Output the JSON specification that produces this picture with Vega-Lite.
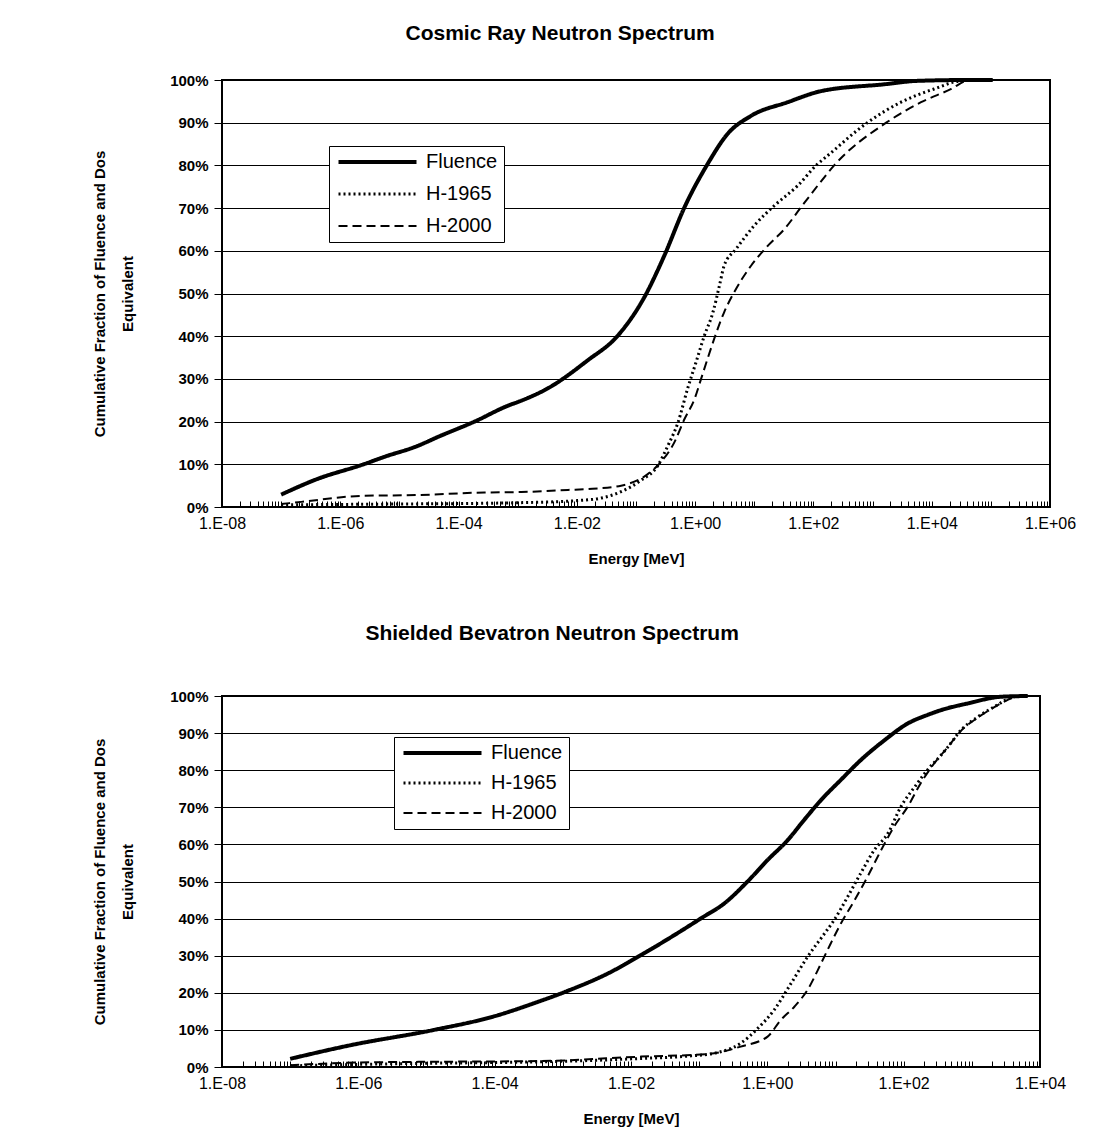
{
  "$schema": "https://vega.github.io/schema/vega-lite/v6.json",
  "background": "white",
  "padding": {"left": 91, "top": 22, "right": 10, "bottom": 5},
  "spacing": 55,
  "resolve": {
    "scale": {"strokeDash": "independent", "strokeWidth": "independent"},
    "legend": {"strokeDash": "independent", "strokeWidth": "independent"}
  },
  "datasets": {
    "cosmic": [
      {"series": "Fluence", "E": 1e-7, "pct": 2.9},
      {"series": "Fluence", "E": 4.17e-7, "pct": 6.6},
      {"series": "Fluence", "E": 2.24e-6, "pct": 9.8},
      {"series": "Fluence", "E": 6.31e-6, "pct": 12.0},
      {"series": "Fluence", "E": 1.78e-5, "pct": 14.0},
      {"series": "Fluence", "E": 5.01e-5, "pct": 16.7},
      {"series": "Fluence", "E": 1.86e-4, "pct": 20.0},
      {"series": "Fluence", "E": 6.76e-4, "pct": 23.7},
      {"series": "Fluence", "E": 1.15e-3, "pct": 24.9},
      {"series": "Fluence", "E": 3.24e-3, "pct": 27.8},
      {"series": "Fluence", "E": 1.51e-2, "pct": 34.3},
      {"series": "Fluence", "E": 4.9e-2, "pct": 40.1},
      {"series": "Fluence", "E": 0.138, "pct": 49.1},
      {"series": "Fluence", "E": 0.302, "pct": 58.9},
      {"series": "Fluence", "E": 0.661, "pct": 70.2},
      {"series": "Fluence", "E": 1.62, "pct": 80.3},
      {"series": "Fluence", "E": 3.55, "pct": 87.4},
      {"series": "Fluence", "E": 8.81, "pct": 91.6},
      {"series": "Fluence", "E": 36.7, "pct": 94.8},
      {"series": "Fluence", "E": 135, "pct": 97.4},
      {"series": "Fluence", "E": 1585, "pct": 99.0},
      {"series": "Fluence", "E": 5754, "pct": 99.8},
      {"series": "Fluence", "E": 40738, "pct": 100},
      {"series": "Fluence", "E": 107150, "pct": 100},
      {"series": "H-1965", "E": 1e-7, "pct": 0.5},
      {"series": "H-1965", "E": 1e-6, "pct": 0.6},
      {"series": "H-1965", "E": 1e-5, "pct": 0.7},
      {"series": "H-1965", "E": 1e-4, "pct": 0.8},
      {"series": "H-1965", "E": 1e-3, "pct": 1.0},
      {"series": "H-1965", "E": 1.02e-2, "pct": 1.5},
      {"series": "H-1965", "E": 2.6e-2, "pct": 2.1},
      {"series": "H-1965", "E": 5.6e-2, "pct": 3.6},
      {"series": "H-1965", "E": 0.12, "pct": 6.2},
      {"series": "H-1965", "E": 0.234, "pct": 9.7},
      {"series": "H-1965", "E": 0.347, "pct": 14.4},
      {"series": "H-1965", "E": 0.513, "pct": 19.8},
      {"series": "H-1965", "E": 0.741, "pct": 27.6},
      {"series": "H-1965", "E": 1.035, "pct": 33.9},
      {"series": "H-1965", "E": 1.43, "pct": 40.1},
      {"series": "H-1965", "E": 2.0, "pct": 45.6},
      {"series": "H-1965", "E": 2.57, "pct": 51.8},
      {"series": "H-1965", "E": 3.09, "pct": 56.5},
      {"series": "H-1965", "E": 4.9, "pct": 60.4},
      {"series": "H-1965", "E": 10, "pct": 65.9},
      {"series": "H-1965", "E": 21.9, "pct": 70.6},
      {"series": "H-1965", "E": 53.7, "pct": 75.2},
      {"series": "H-1965", "E": 117, "pct": 80.3},
      {"series": "H-1965", "E": 174, "pct": 82.3},
      {"series": "H-1965", "E": 832, "pct": 90.1},
      {"series": "H-1965", "E": 3020, "pct": 94.8},
      {"series": "H-1965", "E": 10960, "pct": 97.9},
      {"series": "H-1965", "E": 31600, "pct": 99.8},
      {"series": "H-1965", "E": 107150, "pct": 100},
      {"series": "H-2000", "E": 1e-7, "pct": 0.7},
      {"series": "H-2000", "E": 2.2e-7, "pct": 1.2},
      {"series": "H-2000", "E": 2.24e-6, "pct": 2.6},
      {"series": "H-2000", "E": 2.04e-5, "pct": 2.8},
      {"series": "H-2000", "E": 2.75e-4, "pct": 3.4},
      {"series": "H-2000", "E": 1.15e-3, "pct": 3.5},
      {"series": "H-2000", "E": 7.1e-3, "pct": 4.0},
      {"series": "H-2000", "E": 1.51e-2, "pct": 4.2},
      {"series": "H-2000", "E": 5.6e-2, "pct": 5.0},
      {"series": "H-2000", "E": 0.158, "pct": 7.7},
      {"series": "H-2000", "E": 0.263, "pct": 10.5},
      {"series": "H-2000", "E": 0.447, "pct": 15.2},
      {"series": "H-2000", "E": 0.661, "pct": 20.6},
      {"series": "H-2000", "E": 0.977, "pct": 25.3},
      {"series": "H-2000", "E": 1.26, "pct": 30.0},
      {"series": "H-2000", "E": 1.62, "pct": 34.7},
      {"series": "H-2000", "E": 2.09, "pct": 39.3},
      {"series": "H-2000", "E": 3.09, "pct": 45.6},
      {"series": "H-2000", "E": 4.57, "pct": 50.3},
      {"series": "H-2000", "E": 8.81, "pct": 56.5},
      {"series": "H-2000", "E": 17, "pct": 61.2},
      {"series": "H-2000", "E": 32.4, "pct": 65.1},
      {"series": "H-2000", "E": 61.7, "pct": 70.2},
      {"series": "H-2000", "E": 117, "pct": 75.2},
      {"series": "H-2000", "E": 224, "pct": 80.0},
      {"series": "H-2000", "E": 1700, "pct": 90.0},
      {"series": "H-2000", "E": 6600, "pct": 94.8},
      {"series": "H-2000", "E": 21400, "pct": 97.9},
      {"series": "H-2000", "E": 39800, "pct": 99.8},
      {"series": "H-2000", "E": 107150, "pct": 100}
    ],
    "bevatron": [
      {"series": "Fluence", "E": 1e-7, "pct": 2.2},
      {"series": "Fluence", "E": 7.8e-7, "pct": 5.9},
      {"series": "Fluence", "E": 1.29e-5, "pct": 10.0},
      {"series": "Fluence", "E": 1e-4, "pct": 13.7},
      {"series": "Fluence", "E": 3.8e-4, "pct": 17.2},
      {"series": "Fluence", "E": 1.17e-3, "pct": 20.5},
      {"series": "Fluence", "E": 4.57e-3, "pct": 25.2},
      {"series": "Fluence", "E": 1.41e-2, "pct": 30.2},
      {"series": "Fluence", "E": 4.37e-2, "pct": 35.6},
      {"series": "Fluence", "E": 0.107, "pct": 40.1},
      {"series": "Fluence", "E": 0.234, "pct": 44.1},
      {"series": "Fluence", "E": 0.513, "pct": 50.0},
      {"series": "Fluence", "E": 1.01, "pct": 55.8},
      {"series": "Fluence", "E": 2.0, "pct": 61.2},
      {"series": "Fluence", "E": 3.47, "pct": 66.6},
      {"series": "Fluence", "E": 6.17, "pct": 72.0},
      {"series": "Fluence", "E": 12, "pct": 77.4},
      {"series": "Fluence", "E": 23.4, "pct": 82.7},
      {"series": "Fluence", "E": 52.5, "pct": 88.1},
      {"series": "Fluence", "E": 115, "pct": 92.6},
      {"series": "Fluence", "E": 224, "pct": 94.9},
      {"series": "Fluence", "E": 355, "pct": 96.2},
      {"series": "Fluence", "E": 871, "pct": 98.0},
      {"series": "Fluence", "E": 2690, "pct": 99.8},
      {"series": "Fluence", "E": 6610, "pct": 100},
      {"series": "H-1965", "E": 1e-7, "pct": 0.3},
      {"series": "H-1965", "E": 1e-6, "pct": 0.7},
      {"series": "H-1965", "E": 1e-5, "pct": 1.0},
      {"series": "H-1965", "E": 1e-4, "pct": 1.2},
      {"series": "H-1965", "E": 4.8e-4, "pct": 1.4},
      {"series": "H-1965", "E": 1.41e-2, "pct": 2.3},
      {"series": "H-1965", "E": 7.6e-2, "pct": 3.0},
      {"series": "H-1965", "E": 0.166, "pct": 3.7},
      {"series": "H-1965", "E": 0.407, "pct": 6.4},
      {"series": "H-1965", "E": 0.724, "pct": 10.4},
      {"series": "H-1965", "E": 1.26, "pct": 15.4},
      {"series": "H-1965", "E": 2.24, "pct": 22.6},
      {"series": "H-1965", "E": 3.89, "pct": 29.7},
      {"series": "H-1965", "E": 6.92, "pct": 36.0},
      {"series": "H-1965", "E": 9.55, "pct": 39.6},
      {"series": "H-1965", "E": 15.1, "pct": 45.9},
      {"series": "H-1965", "E": 23.4, "pct": 52.2},
      {"series": "H-1965", "E": 37.2, "pct": 58.5},
      {"series": "H-1965", "E": 58.9, "pct": 63.0},
      {"series": "H-1965", "E": 91.2, "pct": 70.2},
      {"series": "H-1965", "E": 145, "pct": 75.5},
      {"series": "H-1965", "E": 224, "pct": 80.1},
      {"series": "H-1965", "E": 355, "pct": 84.1},
      {"series": "H-1965", "E": 447, "pct": 86.3},
      {"series": "H-1965", "E": 692, "pct": 90.8},
      {"series": "H-1965", "E": 1230, "pct": 94.4},
      {"series": "H-1965", "E": 2140, "pct": 97.1},
      {"series": "H-1965", "E": 4170, "pct": 99.8},
      {"series": "H-1965", "E": 5890, "pct": 100},
      {"series": "H-2000", "E": 1e-7, "pct": 0.5},
      {"series": "H-2000", "E": 1e-6, "pct": 1.2},
      {"series": "H-2000", "E": 1e-5, "pct": 1.4},
      {"series": "H-2000", "E": 1e-4, "pct": 1.5},
      {"series": "H-2000", "E": 4.8e-4, "pct": 1.6},
      {"series": "H-2000", "E": 1.41e-2, "pct": 2.8},
      {"series": "H-2000", "E": 0.135, "pct": 3.5},
      {"series": "H-2000", "E": 0.407, "pct": 5.5},
      {"series": "H-2000", "E": 1.01, "pct": 8.2},
      {"series": "H-2000", "E": 1.58, "pct": 12.7},
      {"series": "H-2000", "E": 2.51, "pct": 16.3},
      {"series": "H-2000", "E": 3.89, "pct": 20.8},
      {"series": "H-2000", "E": 6.17, "pct": 28.0},
      {"series": "H-2000", "E": 8.51, "pct": 33.3},
      {"series": "H-2000", "E": 12, "pct": 38.7},
      {"series": "H-2000", "E": 19.1, "pct": 45.0},
      {"series": "H-2000", "E": 29.5, "pct": 51.3},
      {"series": "H-2000", "E": 46.8, "pct": 58.5},
      {"series": "H-2000", "E": 72.4, "pct": 64.8},
      {"series": "H-2000", "E": 115, "pct": 70.2},
      {"series": "H-2000", "E": 178, "pct": 76.5},
      {"series": "H-2000", "E": 282, "pct": 81.9},
      {"series": "H-2000", "E": 447, "pct": 86.3},
      {"series": "H-2000", "E": 692, "pct": 90.6},
      {"series": "H-2000", "E": 1230, "pct": 94.2},
      {"series": "H-2000", "E": 2140, "pct": 97.0},
      {"series": "H-2000", "E": 4170, "pct": 99.6},
      {"series": "H-2000", "E": 5890, "pct": 100}
    ]
  },
  "config": {
    "font": "Liberation Sans",
    "view": {"stroke": "black", "strokeWidth": 2},
    "axis": {
      "labelFont": "Liberation Sans",
      "titleFont": "Liberation Sans",
      "labelColor": "black",
      "titleColor": "black",
      "tickColor": "black",
      "gridColor": "black",
      "gridOpacity": 1,
      "domain": false,
      "labelFontSize": 15,
      "titleFontSize": 15,
      "titleFontWeight": "bold"
    },
    "title": {
      "font": "Liberation Sans",
      "fontSize": 21,
      "fontWeight": "bold",
      "anchor": "middle",
      "frame": "bounds",
      "color": "black"
    },
    "legend": {
      "labelFont": "Liberation Sans",
      "labelFontSize": 20,
      "labelColor": "black",
      "symbolType": "M-1,0H11",
      "symbolSize": 169,
      "symbolStrokeColor": "black",
      "labelOffset": 71,
      "padding": 6,
      "strokeColor": "black",
      "fillColor": "white"
    }
  },
  "vconcat": [
    {
      "width": 828,
      "height": 427,
      "title": {"text": "Cosmic Ray Neutron Spectrum", "offset": 28, "dx": -24},
      "data": {"name": "cosmic"},
      "mark": {"type": "line", "interpolate": "monotone", "color": "black"},
      "encoding": {
        "x": {
          "field": "E", "type": "quantitative",
          "scale": {"type": "log", "domain": [1e-8, 1e6], "nice": false},
          "axis": {
            "title": "Energy [MeV]",
            "values": [1e-8,2e-8,3e-8,4e-8,5e-8,6e-8,7e-8,8e-8,9e-8,1e-7,2e-7,3e-7,4e-7,5e-7,6e-7,7e-7,8e-7,9e-7,1e-6,2e-6,3e-6,4e-6,5e-6,6e-6,7e-6,8e-6,9e-6,1e-5,2e-5,3e-5,4e-5,5e-5,6e-5,7e-5,8e-5,9e-5,1e-4,2e-4,3e-4,4e-4,5e-4,6e-4,7e-4,8e-4,9e-4,1e-3,2e-3,3e-3,4e-3,5e-3,6e-3,7e-3,8e-3,9e-3,1e-2,2e-2,3e-2,4e-2,5e-2,6e-2,7e-2,8e-2,9e-2,0.1,0.2,0.3,0.4,0.5,0.6,0.7,0.8,0.9,1,2,3,4,5,6,7,8,9,10,20,30,40,50,60,70,80,90,100,200,300,400,500,600,700,800,900,1000,2000,3000,4000,5000,6000,7000,8000,9000,1e4,2e4,3e4,4e4,5e4,6e4,7e4,8e4,9e4,1e5,2e5,3e5,4e5,5e5,6e5,7e5,8e5,9e5,1e6],
            "labelExpr": "abs(log(datum.value)/LN10 - round(log(datum.value)/LN10)) < 0.001 && round(log(datum.value)/LN10) % 2 == 0 ? '1.E' + (datum.value < 1 ? '-' : '+') + (abs(round(log(datum.value)/LN10)) < 10 ? '0' : '') + abs(round(log(datum.value)/LN10)) : ''",
            "labelOverlap": false,
            "labelFlush": false,
            "labelBound": false,
            "labelFontSize": 16,
            "tickSize": -6,
            "labelPadding": 14,
            "grid": false,
            "titlePadding": 20
          }
        },
        "y": {
          "field": "pct", "type": "quantitative",
          "scale": {"domain": [0, 100], "nice": false},
          "axis": {
            "title": ["Cumulative Fraction of Fluence and Dos", "Equivalent"],
            "values": [0, 10, 20, 30, 40, 50, 60, 70, 80, 90, 100],
            "labelExpr": "datum.value + '%'",
            "grid": true,
            "gridWidth": 1,
            "tickSize": 8,
            "labelPadding": 6,
            "labelFontWeight": "bold",
            "titleLineHeight": 28,
            "titlePadding": 34
          }
        },
        "strokeDash": {
          "field": "series", "type": "nominal",
          "scale": {"domain": ["Fluence", "H-1965", "H-2000"], "range": [[1, 0], [2, 3], [9, 5]]},
          "legend": {"orient": "none", "legendX": 107, "legendY": 66, "title": null, "rowPadding": 12}
        },
        "strokeWidth": {
          "field": "series", "type": "nominal",
          "scale": {"domain": ["Fluence", "H-1965", "H-2000"], "range": [4, 2, 2.5]},
          "legend": {"orient": "none", "legendX": 107, "legendY": 66, "title": null, "rowPadding": 12}
        }
      }
    },
    {
      "width": 818,
      "height": 371,
      "title": {"text": "Shielded Bevatron Neutron Spectrum", "offset": 44, "dx": -27},
      "data": {"name": "bevatron"},
      "mark": {"type": "line", "interpolate": "monotone", "color": "black"},
      "encoding": {
        "x": {
          "field": "E", "type": "quantitative",
          "scale": {"type": "log", "domain": [1e-8, 1e4], "nice": false},
          "axis": {
            "title": "Energy [MeV]",
            "values": [1e-8,2e-8,3e-8,4e-8,5e-8,6e-8,7e-8,8e-8,9e-8,1e-7,2e-7,3e-7,4e-7,5e-7,6e-7,7e-7,8e-7,9e-7,1e-6,2e-6,3e-6,4e-6,5e-6,6e-6,7e-6,8e-6,9e-6,1e-5,2e-5,3e-5,4e-5,5e-5,6e-5,7e-5,8e-5,9e-5,1e-4,2e-4,3e-4,4e-4,5e-4,6e-4,7e-4,8e-4,9e-4,1e-3,2e-3,3e-3,4e-3,5e-3,6e-3,7e-3,8e-3,9e-3,1e-2,2e-2,3e-2,4e-2,5e-2,6e-2,7e-2,8e-2,9e-2,0.1,0.2,0.3,0.4,0.5,0.6,0.7,0.8,0.9,1,2,3,4,5,6,7,8,9,10,20,30,40,50,60,70,80,90,100,200,300,400,500,600,700,800,900,1000,2000,3000,4000,5000,6000,7000,8000,9000,1e4],
            "labelExpr": "abs(log(datum.value)/LN10 - round(log(datum.value)/LN10)) < 0.001 && round(log(datum.value)/LN10) % 2 == 0 ? '1.E' + (datum.value < 1 ? '-' : '+') + (abs(round(log(datum.value)/LN10)) < 10 ? '0' : '') + abs(round(log(datum.value)/LN10)) : ''",
            "labelOverlap": false,
            "labelFlush": false,
            "labelBound": false,
            "labelFontSize": 16,
            "tickSize": -6,
            "labelPadding": 14,
            "grid": false,
            "titlePadding": 20
          }
        },
        "y": {
          "field": "pct", "type": "quantitative",
          "scale": {"domain": [0, 100], "nice": false},
          "axis": {
            "title": ["Cumulative Fraction of Fluence and Dos", "Equivalent"],
            "values": [0, 10, 20, 30, 40, 50, 60, 70, 80, 90, 100],
            "labelExpr": "datum.value + '%'",
            "grid": true,
            "gridWidth": 1,
            "tickSize": 8,
            "labelPadding": 6,
            "labelFontWeight": "bold",
            "titleLineHeight": 28,
            "titlePadding": 34
          }
        },
        "strokeDash": {
          "field": "series", "type": "nominal",
          "scale": {"domain": ["Fluence", "H-1965", "H-2000"], "range": [[1, 0], [2, 3], [9, 5]]},
          "legend": {"orient": "none", "legendX": 172, "legendY": 41, "title": null, "rowPadding": 10}
        },
        "strokeWidth": {
          "field": "series", "type": "nominal",
          "scale": {"domain": ["Fluence", "H-1965", "H-2000"], "range": [4, 2, 2.5]},
          "legend": {"orient": "none", "legendX": 172, "legendY": 41, "title": null, "rowPadding": 10}
        }
      }
    }
  ]
}
